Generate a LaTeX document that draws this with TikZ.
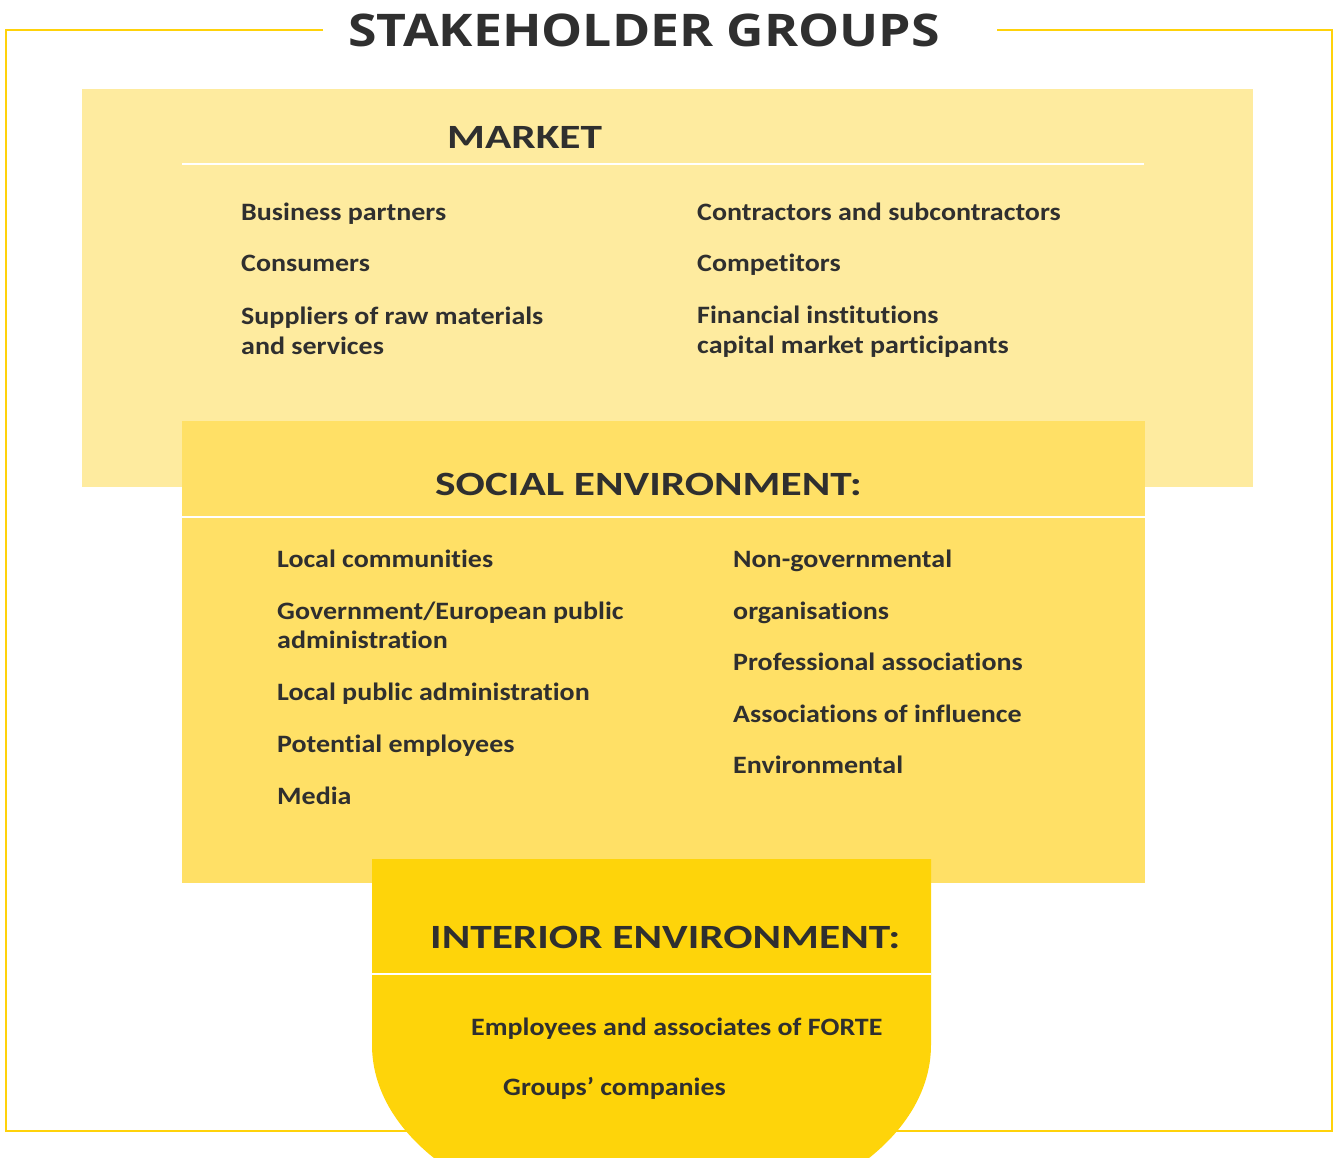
\documentclass[tikz,border=0pt]{standalone}
\usepackage{fontspec}
\setmainfont{Carlito}
\newfontfamily\titlefont{Open Sans}[FakeStretch=1.15]
\newfontfamily\headfont{Carlito}[FakeStretch=1.275, RawFeature=-liga]
\newfontfamily\itemfont{Carlito}[FakeStretch=1.12, RawFeature=-liga]
\definecolor{frameyellow}{HTML}{FFD20A}
\definecolor{marketfill}{HTML}{FEEB9F}
\definecolor{socialfill}{HTML}{FFE066}
\definecolor{interiorfill}{HTML}{FED40A}
\definecolor{ink}{HTML}{2F2F2F}
\tikzset{
  titletext/.style={anchor=base, inner sep=0pt, text=ink, font=\titlefont\bfseries\fontsize{45}{50}\selectfont},
  headtext/.style={anchor=base west, inner sep=0pt, text=ink, font=\headfont\bfseries\fontsize{34}{38}\selectfont},
  itemtext/.style={anchor=base west, inner sep=0pt, text=ink, font=\itemfont\bfseries\fontsize{25}{29}\selectfont},
  rule/.style={draw=white, line width=2.5pt},
}
\begin{document}
\begin{tikzpicture}[x=1pt, y=-1pt]
  \useasboundingbox (0,0) rectangle (1334,1158);
  \clip (0,0) rectangle (1334,1158);

  % outer frame, open at the top for the title
  \draw[frameyellow, line width=2.5pt]
    (323,30) -- (6,30) -- (6,1131) -- (1332,1131) -- (1332,30) -- (997,30);
  \node[titletext] (title) at (644,47) {STAKEHOLDER GROUPS};

  % market
  \fill[marketfill] (82,89) rectangle (1253,487);
  \draw[rule] (182,164) -- (1144,164);
  \node[headtext] (market) at (447,149) {MARKET};
  \node[itemtext] (m1) at (241,221) {Business partners};
  \node[itemtext] (m2) at (241,272) {Consumers};
  \node[itemtext] (m3) at (241,325) {Suppliers of raw materials};
  \node[itemtext] (m4) at (241,355) {and services};
  \node[itemtext] (m5) at (697,221) {Contractors and subcontractors};
  \node[itemtext] (m6) at (697,272) {Competitors};
  \node[itemtext] (m7) at (697,324) {Financial institutions};
  \node[itemtext] (m8) at (697,354) {capital market participants};

  % social environment
  \fill[socialfill] (182,421) rectangle (1145,883);
  \draw[rule] (182,517) -- (1145,517);
  \node[headtext] (social) at (435,495) {SOCIAL ENVIRONMENT:};
  \node[itemtext] (s1) at (277,567) {Local communities};
  \node[itemtext] (s2) at (277,619) {Government/European public};
  \node[itemtext] (s3) at (277,648) {administration};
  \node[itemtext] (s4) at (277,700) {Local public administration};
  \node[itemtext] (s5) at (277,752) {Potential employees};
  \node[itemtext] (s6) at (277,804) {Media};
  \node[itemtext] (s7) at (733,567) {Non-governmental};
  \node[itemtext] (s8) at (733,619) {organisations};
  \node[itemtext] (s9) at (733,670) {Professional associations};
  \node[itemtext] (s10) at (733,722) {Associations of influence};
  \node[itemtext] (s11) at (733,773) {Environmental};

  % interior environment, rounded at the bottom
  \fill[interiorfill] (372,859) -- (931,859) -- (931,1045)
    arc[start angle=0, end angle=180, x radius=279.5, y radius=180] -- cycle;
  \draw[rule] (372,974) -- (931,974);
  \node[headtext] (interior) at (430,948) {INTERIOR ENVIRONMENT:};
  \node[itemtext] (i1) at (471,1035) {Employees and associates of FORTE};
  \node[itemtext] (i2) at (503,1095) {Groups’ companies};
\end{tikzpicture}
\end{document}
